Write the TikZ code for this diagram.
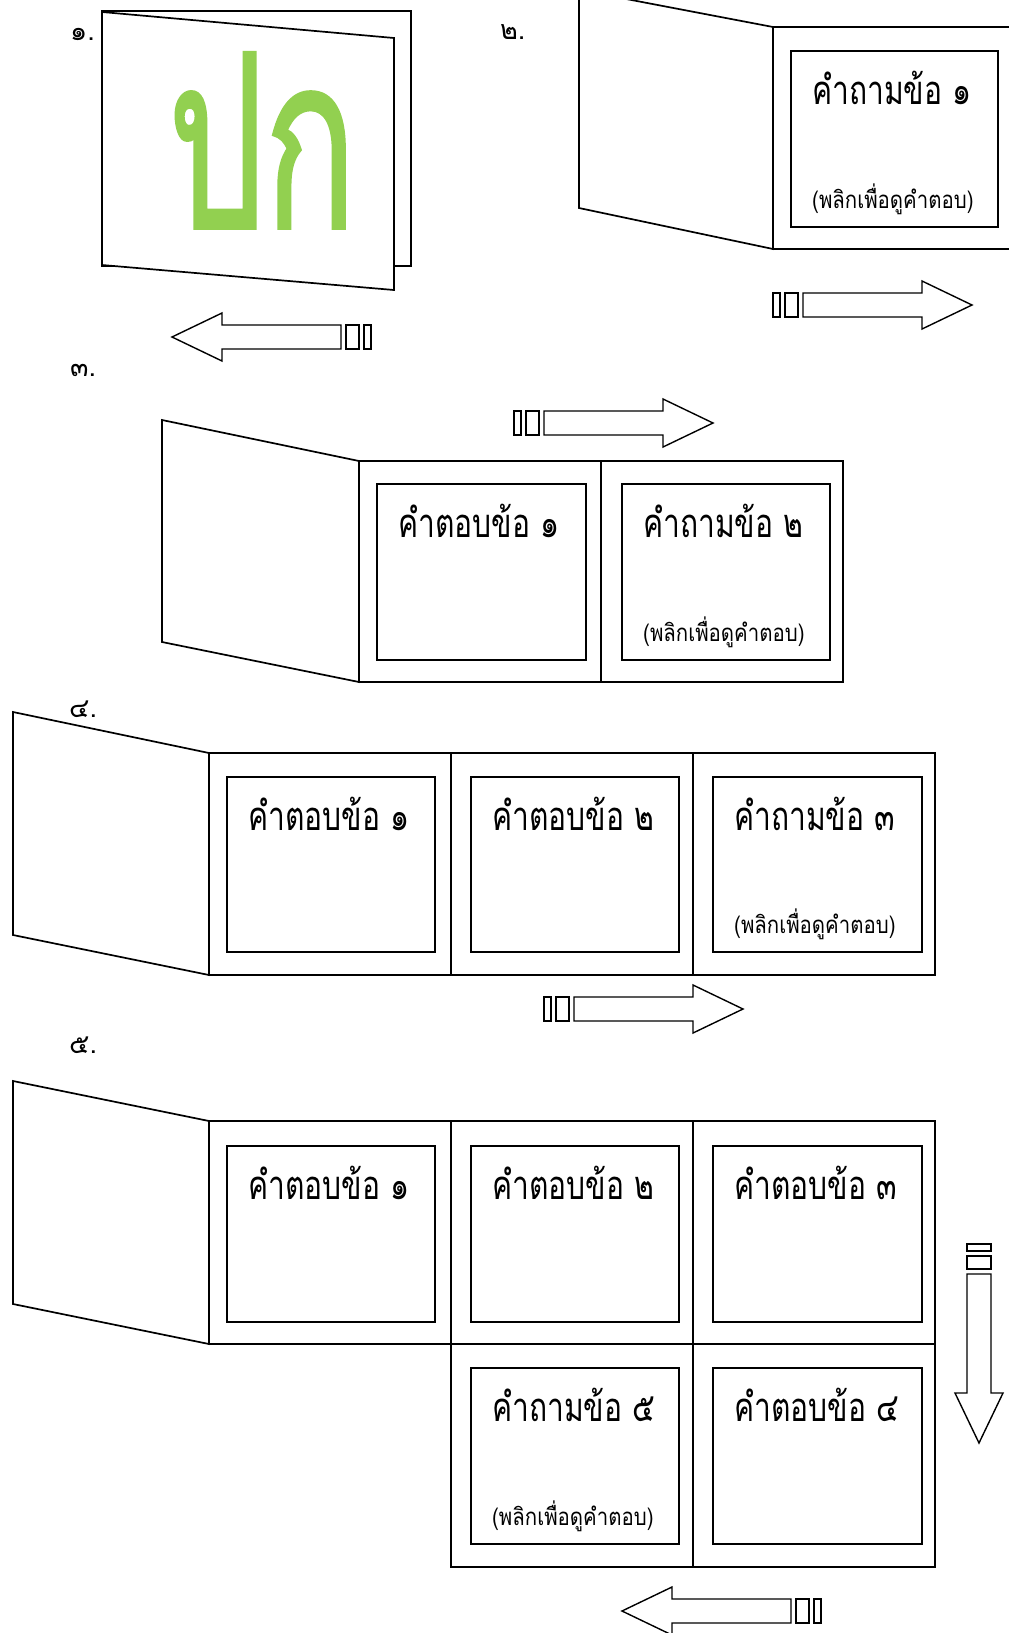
\documentclass[tikz,border=0pt]{standalone}
\usepackage{fontspec}
\usetikzlibrary{calc}
\newfontfamily\thaifont[Script=Thai,FakeStretch=0.75]{Loma}
\newfontfamily\thaisub[Script=Thai,FakeStretch=0.85]{Loma}
\newfontfamily\thailabel[Script=Thai]{Loma}
\newfontfamily\thaibig[Script=Thai,FakeBold=1.5]{Loma}
\definecolor{covergreen}{HTML}{92D050}
\tikzset{
  pageline/.style={draw=black, fill=white, line width=1.7pt, line join=miter},
  cardline/.style={draw=black, line width=1.9pt},
  maintext/.style={anchor=base west, inner sep=0pt, font=\thaifont\fontsize{40}{40}\selectfont},
  subtext/.style={anchor=base west, inner sep=0pt, font=\thaisub\fontsize{24}{24}\selectfont},
  steplabel/.style={anchor=base west, inner sep=0pt, font=\thailabel\fontsize{27}{27}\selectfont},
  arrowline/.style={draw=black, fill=white, line width=1.4pt, line join=miter},
}
% card: name, x1, y1, x2, y2, main text
\newcommand\mycard[6]{%
  \draw[cardline] (#2,#3) rectangle (#4,#5);
  \coordinate (#1nw) at (#2,#3);
  \coordinate (#1sw) at (#2,#5);
  \node[maintext] (#1main) at ([shift={(21,53)}]#1nw) {#6};
}
\newcommand\mysub[1]{%
  \node[subtext] (#1sub) at ([shift={(21,-19)}]#1sw) {(พลิกเพื่อดูคำตอบ)};
}
% arrow with tip at (x,y), rotation angle
\newcommand\myarrow[3]{%
  \begin{scope}[shift={(#1,#2)}, rotate=#3]
    \draw[arrowline] (0,0) -- (-50,-24) -- (-50,-12) -- (-169,-12) -- (-169,12) -- (-50,12) -- (-50,24) -- cycle;
    \draw[arrowline] (-187,-12) rectangle (-174,12);
    \draw[arrowline] (-199,-12) rectangle (-192,12);
  \end{scope}
}
\begin{document}
\begin{tikzpicture}[x=1pt,y=-1pt]
\useasboundingbox (0,0) rectangle (1009,1633);
\clip (0,0) rectangle (1009,1633);
\fill[white] (0,0) rectangle (1009,1633);

% ---------- step 1 ----------
\node[steplabel] (l1) at (70,40) {๑.};
\draw[pageline] (102,11) rectangle (411,266);
\draw[pageline] (102,12) -- (394,38) -- (394,290) -- (102,265) -- cycle;
\node[anchor=base west, inner sep=0pt, text=covergreen] (cover) at (168,228)
  {\resizebox{188pt}{175pt}{\thaibig ปก}};
\myarrow{172}{337}{180}

% ---------- step 2 ----------
\node[steplabel] (l2) at (500,39) {๒.};
\draw[pageline] (579,-10) -- (773,27) -- (773,249) -- (579,208) -- cycle;
\draw[pageline] (773,27) rectangle (1030,249);
\mycard{a}{791}{51}{998}{227}{คำถามข้อ ๑}
\mysub{a}
\myarrow{972}{305}{0}

% ---------- step 3 ----------
\node[steplabel] (l3) at (70,376) {๓.};
\myarrow{713}{423}{0}
\draw[pageline] (162,420) -- (359,461) -- (359,682) -- (162,642) -- cycle;
\draw[pageline] (359,461) rectangle (843,682);
\draw[pageline] (601,461) -- (601,682);
\mycard{b}{377}{484}{586}{660}{คำตอบข้อ ๑}
\mycard{c}{622}{484}{830}{660}{คำถามข้อ ๒}
\mysub{c}

% ---------- step 4 ----------
\draw[pageline] (13,712) -- (209,753) -- (209,975) -- (13,935) -- cycle;
\node[steplabel] (l4) at (69,717) {๔.};
\draw[pageline] (209,753) rectangle (935,975);
\draw[pageline] (451,753) -- (451,975);
\draw[pageline] (693,753) -- (693,975);
\mycard{d}{227}{777}{435}{952}{คำตอบข้อ ๑}
\mycard{e}{471}{777}{679}{952}{คำตอบข้อ ๒}
\mycard{f}{713}{777}{922}{952}{คำถามข้อ ๓}
\mysub{f}
\myarrow{743}{1009}{0}

% ---------- step 5 ----------
\node[steplabel] (l5) at (69,1053) {๕.};
\draw[pageline] (13,1081) -- (209,1121) -- (209,1344) -- (13,1304) -- cycle;
\draw[pageline] (209,1121) rectangle (935,1344);
\draw[pageline] (451,1121) -- (451,1344);
\draw[pageline] (693,1121) -- (693,1344);
\draw[pageline] (451,1344) rectangle (935,1567);
\draw[pageline] (693,1344) -- (693,1567);
\mycard{g}{227}{1146}{435}{1322}{คำตอบข้อ ๑}
\mycard{h}{471}{1146}{679}{1322}{คำตอบข้อ ๒}
\mycard{i}{713}{1146}{922}{1322}{คำตอบข้อ ๓}
\mycard{j}{471}{1368}{679}{1544}{คำถามข้อ ๕}
\mysub{j}
\mycard{k}{713}{1368}{922}{1544}{คำตอบข้อ ๔}
\myarrow{979}{1443}{-90}
\myarrow{622}{1611}{180}
\end{tikzpicture}
\end{document}
